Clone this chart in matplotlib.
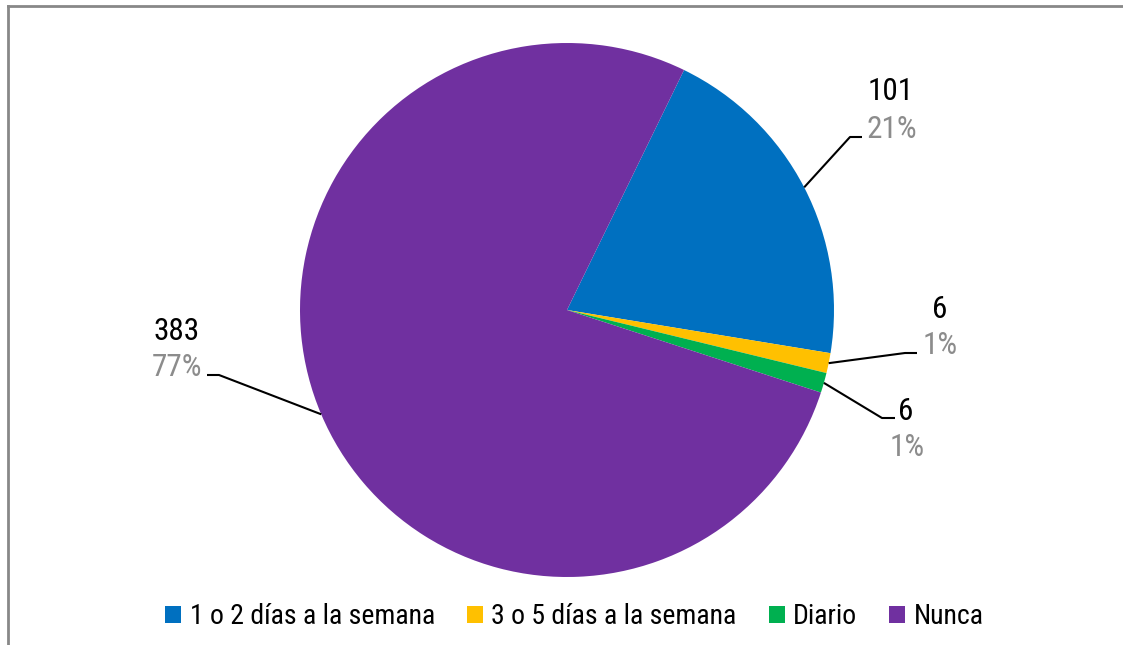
import numpy as np
import matplotlib
matplotlib.use("Agg")
from matplotlib import pyplot as plt
from matplotlib.lines import Line2D

# Data
categories = ['1 o 2 días a la semana', '3 o 5 días a la semana', 'Diario', 'Nunca']
counts = [101, 6, 6, 383]
percents = ['21%', '1%', '1%', '77%']
colors = ['#0070C0', '#FFC000', '#00B050', '#7030A0']

W, H = 1123, 645
plt.rcParams['font.family'] = ['Roboto Condensed', 'Liberation Sans', 'DejaVu Sans']

fig = plt.figure(figsize=(W / 100, H / 100), dpi=100)
ax = fig.add_axes([0, 0, 1, 1])

cx, cy, r = 567, H - 310, 267
wedges, _ = ax.pie(counts, colors=colors, startangle=64, counterclock=False,
                   radius=r, center=(cx, cy), frame=False,
                   wedgeprops=dict(linewidth=0))
ax.set_xlim(0, W)
ax.set_ylim(0, H)
ax.set_axis_off()

# label layout (image pixel coords, y down): elbow, end of leader, value pos, pct pos
layout = [
    ((850, 137), (862, 137), (891, 88), (892, 126)),
    ((905, 353), (917, 353), (940, 307), (940, 343)),
    ((882, 418), (895, 418), (906, 409), (907, 445)),
    ((219, 375), (207, 375), (177, 328), (177, 365)),
]

for w, cnt, pct, (elb, end, vpos, ppos) in zip(wedges, counts, percents, layout):
    mid = np.deg2rad((w.theta1 + w.theta2) / 2)
    x0 = cx + r * np.cos(mid)
    y0 = cy + r * np.sin(mid)
    ax.plot([x0, elb[0], end[0]], [y0, H - elb[1], H - end[1]],
            color='black', lw=1.5, solid_capstyle='butt')
    ax.text(vpos[0], H - vpos[1], str(cnt), ha='center', va='center_baseline',
            fontsize=22.5, color='black')
    ax.text(ppos[0], H - ppos[1], pct, ha='center', va='center_baseline',
            fontsize=22.5, color='#8c8c8c')

leg = fig.legend(wedges, categories, loc='center', ncol=4,
                 bbox_to_anchor=((172 + 977) / 2 / W, 1 - 617 / H),
                 frameon=False, fontsize=20, handlelength=0.58, handleheight=0.58,
                 handletextpad=0.3, columnspacing=1.15, borderaxespad=0)

# outer border (only top and left visible)
fig.add_artist(Line2D([7.5 / W, 1], [1 - 5.5 / H, 1 - 5.5 / H], color='#888888', lw=2))
fig.add_artist(Line2D([7.5 / W, 7.5 / W], [0, 1 - 5.5 / H], color='#888888', lw=2))

plt.savefig("out.png", dpi=100)
